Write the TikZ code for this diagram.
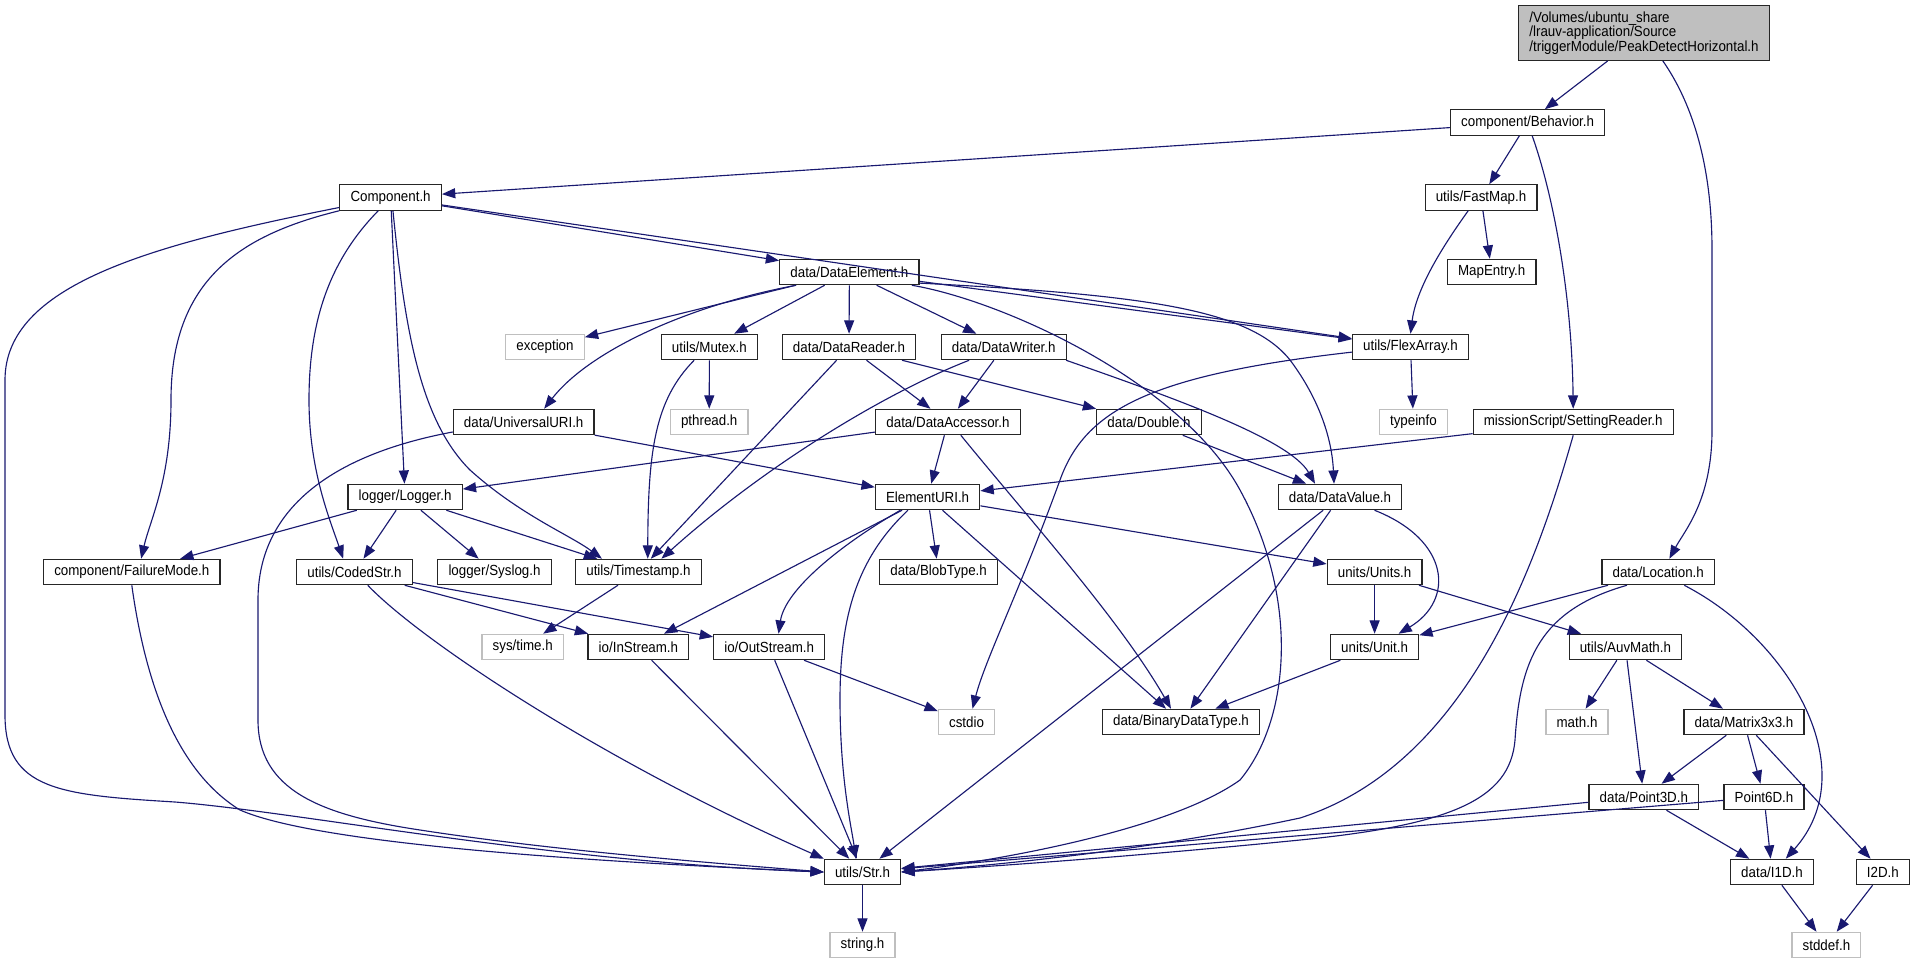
\documentclass[tikz,border=0pt]{standalone}
\usepackage{fontspec}
\setmainfont{Liberation Sans}[FakeStretch=0.91]
\usetikzlibrary{arrows.meta}
\definecolor{edgeblue}{HTML}{191970}
\definecolor{grey75}{HTML}{BFBFBF}

\begin{document}
\begin{tikzpicture}[x=0.75pt, y=0.75pt,
    hfile/.style={draw=black!85, line width=0.9pt, fill=white, inner xsep=8pt, inner ysep=0pt,
        minimum height=19pt, font=\fontsize{11}{10.7}\selectfont},
    sysfile/.style={hfile, draw=grey75},
    inc/.style={draw=edgeblue, line width=0.85pt, -{Triangle[length=10pt, width=7.5pt]}}]
    \useasboundingbox (0,0) rectangle (1915,-963);

    % files
    \node[hfile, fill=grey75, align=left, minimum height=41pt] (root) at (1644,-33)
        {/Volumes/ubuntu\_share\\/lrauv-application/Source\\/triggerModule/PeakDetectHorizontal.h};
    \node[hfile] (beh) at (1527.6,-122.5) {component/Behavior.h};
    \node[hfile] (comp) at (390.6,-197.5) {Component.h};
    \node[hfile] (fastmap) at (1481,-197.5) {utils/FastMap.h};
    \node[hfile] (delem) at (849.4,-272) {data/DataElement.h};
    \node[hfile] (mapentry) at (1491.7,-272) {MapEntry.h};
    \node[sysfile] (exc) at (545,-347) {exception};
    \node[hfile] (mutex) at (709.4,-347) {utils/Mutex.h};
    \node[hfile] (dreader) at (849,-347) {data/DataReader.h};
    \node[hfile] (dwriter) at (1003.7,-347) {data/DataWriter.h};
    \node[hfile] (flex) at (1410.5,-347) {utils/FlexArray.h};
    \node[hfile] (uuri) at (523.7,-422) {data/UniversalURI.h};
    \node[sysfile] (pthread) at (709.2,-422) {pthread.h};
    \node[hfile] (dacc) at (948,-422) {data/DataAccessor.h};
    \node[hfile] (double) at (1149,-422) {data/Double.h};
    \node[sysfile] (typeinfo) at (1413.4,-422) {typeinfo};
    \node[hfile] (setread) at (1573.2,-422) {missionScript/SettingReader.h};
    \node[hfile] (logger) at (405.1,-497) {logger/Logger.h};
    \node[hfile] (euri) at (927.6,-497) {ElementURI.h};
    \node[hfile] (dvalue) at (1340,-497) {data/DataValue.h};
    \node[hfile] (fmode) at (131.8,-572) {component/FailureMode.h};
    \node[hfile] (coded) at (354.5,-572) {utils/CodedStr.h};
    \node[hfile] (syslog) at (494.5,-572) {logger/Syslog.h};
    \node[hfile] (tstamp) at (638.4,-572) {utils/Timestamp.h};
    \node[hfile] (blob) at (938.6,-572) {data/BlobType.h};
    \node[hfile] (units) at (1374.6,-572) {units/Units.h};
    \node[hfile] (loc) at (1658.2,-572) {data/Location.h};
    \node[sysfile] (systime) at (522.7,-647) {sys/time.h};
    \node[hfile] (instream) at (638.4,-647) {io/InStream.h};
    \node[hfile] (outstream) at (769.2,-647) {io/OutStream.h};
    \node[hfile] (unit) at (1374.6,-647) {units/Unit.h};
    \node[hfile] (auvmath) at (1625.4,-647) {utils/AuvMath.h};
    \node[sysfile] (cstdio) at (966.5,-722) {cstdio};
    \node[hfile] (bintype) at (1181,-722) {data/BinaryDataType.h};
    \node[sysfile] (mathh) at (1577,-722) {math.h};
    \node[hfile] (matrix) at (1744,-722) {data/Matrix3x3.h};
    \node[hfile] (point3d) at (1643.8,-797) {data/Point3D.h};
    \node[hfile] (point6d) at (1764,-797) {Point6D.h};
    \node[hfile] (str) at (862.5,-872) {utils/Str.h};
    \node[hfile] (i1d) at (1772,-872) {data/I1D.h};
    \node[hfile] (i2d) at (1882.8,-872) {I2D.h};
    \node[sysfile] (stringh) at (862.5,-945) {string.h};
    \node[sysfile] (stddef) at (1826.4,-945) {stddef.h};

    % includes
    \draw[inc] (root) -- (beh);
    \draw[inc] (root.-56) .. controls (1690,-100) and (1712,-160) .. (1712,-250) -- (1712,-430)
        .. controls (1712,-500) and (1685,-530) .. (loc.50);
    \draw[inc] (beh) -- (comp);
    \draw[inc] (beh) -- (fastmap);
    \draw[inc] (beh.-71) .. controls (1555,-200) and (1572,-300) .. (setread.north);
    \draw[inc] (fastmap) -- (mapentry);
    \draw[inc] (fastmap.-134) .. controls (1440,-250) and (1416,-290) .. (flex.north);

    \draw[inc] (comp) -- (delem);
    \draw[inc] (comp) -- (flex);
    \draw[inc] (comp) -- (logger);
    \draw[inc] (comp.191) .. controls (150,-245) and (5,-285) .. (5,-380) -- (5,-715)
        .. controls (5,-790) and (60,-795) .. (175,-802) .. controls (300,-812) and (550,-862) .. (str.west);
    \draw[inc] (comp.south west) .. controls (240,-235) and (171,-280) .. (171,-400)
        .. controls (171,-480) and (150,-520) .. ([xshift=7pt]fmode.north);
    \draw[inc] (comp.-133) .. controls (330,-260) and (309,-320) .. (309,-400)
        .. controls (309,-470) and (330,-520) .. ([xshift=-8.5pt]coded.north);
    \draw[inc] (comp.-80) .. controls (405,-330) and (420,-420) .. (470,-470)
        .. controls (520,-515) and (570,-535) .. (tstamp.160);

    \draw[inc] (delem) -- (exc);
    \draw[inc] (delem.194) .. controls (690,-305) and (590,-350) .. (uuri.33);
    \draw[inc] (delem) -- (mutex);
    \draw[inc] (delem) -- (dreader);
    \draw[inc] (delem) -- (dwriter);
    \draw[inc] (delem) -- (flex);
    \draw[inc] (delem.-9) .. controls (1150,-295) and (1250,-310) .. (1290,-360)
        .. controls (1320,-400) and (1332,-440) .. ([xshift=-4.5pt]dvalue.north);
    \draw[inc] (delem.-12) .. controls (1000,-300) and (1180,-380) .. (1240,-490)
        .. controls (1300,-600) and (1290,-720) .. (1240,-780)
        .. controls (1170,-830) and (1000,-860) .. (str.east);

    \draw[inc] (mutex) -- (pthread);
    \draw[inc] (mutex.-139) .. controls (655,-400) and (648,-450) .. ([xshift=7pt]tstamp.north);
    \draw[inc] (dreader) -- (tstamp);
    \draw[inc] (dreader) -- (dacc);
    \draw[inc] (dreader) -- (double);
    \draw[inc] (dwriter) -- (dacc);
    \draw[inc] (dwriter.-159) .. controls (880,-395) and (760,-470) .. (tstamp.30);
    \draw[inc] (dwriter.-12) .. controls (1180,-400) and (1290,-440) .. (dvalue.152);
    \draw[inc] (flex) -- (typeinfo);
    \draw[inc] (flex.185) .. controls (1150,-375) and (1085,-410) .. (1060,-480)
        .. controls (1020,-590) and (985,-660) .. ([xshift=4.5pt]cstdio.north);

    \draw[inc] (uuri) -- (euri);
    \draw[inc] (uuri.188) .. controls (330,-455) and (258,-510) .. (258,-600) -- (258,-720)
        .. controls (258,-790) and (320,-815) .. (420,-830) .. controls (550,-850) and (700,-862) .. (str.west);
    \draw[inc] (dacc) -- (logger);
    \draw[inc] (dacc) -- (euri);
    \draw[inc] (dacc.-46) .. controls (1030,-520) and (1120,-620) .. ([xshift=-7.5pt]bintype.north);
    \draw[inc] (double) -- (dvalue);
    \draw[inc] (setread) -- (euri);
    \draw[inc] (setread.south) .. controls (1535,-570) and (1465,-765) .. (1300,-818)
        .. controls (1150,-850) and (1000,-865) .. (str.east);

    \draw[inc] (logger) -- (fmode);
    \draw[inc] (logger) -- (coded);
    \draw[inc] (logger) -- (syslog);
    \draw[inc] (logger) -- (tstamp);
    \draw[inc] (euri) -- (instream);
    \draw[inc] (euri.-154) .. controls (840,-545) and (785,-590) .. ([xshift=7pt]outstream.north);
    \draw[inc] (euri.-146) .. controls (855,-560) and (840,-620) .. (840,-700)
        .. controls (840,-780) and (852,-830) .. ([xshift=-5pt]str.north);
    \draw[inc] (euri) -- (blob);
    \draw[inc] (euri) -- (bintype);
    \draw[inc] (euri) -- (units);
    \draw[inc] (dvalue) -- (str);
    \draw[inc] (dvalue) -- (bintype);
    \draw[inc] (dvalue.-21) .. controls (1450,-540) and (1455,-600) .. (unit.29);

    \draw[inc] (fmode.south) .. controls (145,-680) and (175,-770) .. (240,-810)
        .. controls (320,-845) and (600,-862) .. (str.west);
    \draw[inc] (coded.-45) .. controls (420,-640) and (600,-760) .. (str.north west);
    \draw[inc] (coded) -- (instream);
    \draw[inc] (coded) -- (outstream);
    \draw[inc] (tstamp) -- (systime);
    \draw[inc] (units) -- (unit);
    \draw[inc] (units) -- (auvmath);
    \draw[inc] (loc) -- (unit);
    \draw[inc] (loc.-157) .. controls (1540,-610) and (1520,-660) .. (1515,-740)
        .. controls (1510,-800) and (1450,-825) .. (1300,-840)
        .. controls (1150,-855) and (1000,-866) .. (str.east);
    \draw[inc] (loc.-27) .. controls (1790,-640) and (1865,-770) .. (i1d.44);

    \draw[inc] (instream) -- (str);
    \draw[inc] (outstream) -- (str);
    \draw[inc] (outstream) -- (cstdio);
    \draw[inc] (unit) -- (bintype);
    \draw[inc] (auvmath) -- (mathh);
    \draw[inc] (auvmath) -- (point3d);
    \draw[inc] (auvmath) -- (matrix);
    \draw[inc] (matrix) -- (point3d);
    \draw[inc] (matrix) -- (point6d);
    \draw[inc] (matrix) -- (i2d);
    \draw[inc] (point3d) -- (str);
    \draw[inc] (point3d) -- (i1d);
    \draw[inc] (point6d) -- (str);
    \draw[inc] (point6d) -- (i1d);
    \draw[inc] (str) -- (stringh);
    \draw[inc] (i1d) -- (stddef);
    \draw[inc] (i2d) -- (stddef);
\end{tikzpicture}
\end{document}
